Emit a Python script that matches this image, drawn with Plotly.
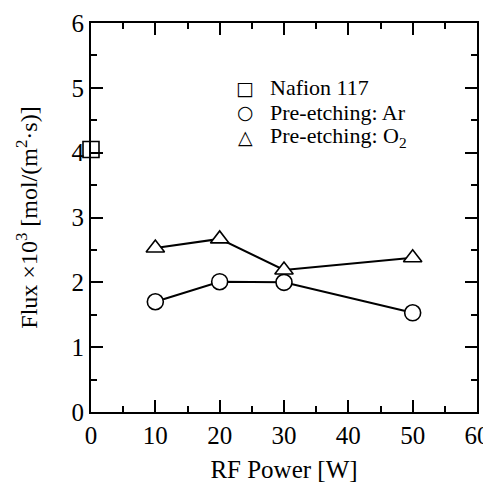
import plotly.graph_objects as go

nafion_x = [0]
nafion_y = [4.05]
power = [10, 20, 30, 50]
flux_ar = [1.70, 2.01, 2.00, 1.53]
flux_o2 = [2.53, 2.67, 2.19, 2.38]
x_major = [0, 10, 20, 30, 40, 50, 60]
y_major = [0, 1, 2, 3, 4, 5, 6]
legend_names = ["Nafion 117", "Pre-etching: Ar", "Pre-etching: O<sub>2</sub>"]
legend_glyphs = ["□", "○", "△"]

FONT = "Liberation Serif"
fig = go.Figure()

mk = dict(size=16, color="white", line=dict(color="black", width=1.6))

fig.add_trace(go.Scatter(x=power, y=flux_ar, mode="lines+markers", cliponaxis=False,
                         line=dict(color="black", width=2),
                         marker=dict(symbol="circle", **mk)))
fig.add_trace(go.Scatter(x=power, y=flux_o2, mode="lines+markers", cliponaxis=False,
                         line=dict(color="black", width=2),
                         marker=dict(symbol="triangle-up", **mk)))
fig.add_trace(go.Scatter(x=nafion_x, y=nafion_y, mode="markers", cliponaxis=False,
                         marker=dict(symbol="square", **mk)))

# legend drawn as text annotations
leg_rows = [0.833, 0.771, 0.707]
for name, glyph, yy in zip(legend_names, legend_glyphs, leg_rows):
    fig.add_annotation(xref="paper", yref="paper", x=0.399, y=yy, text=glyph,
                       showarrow=False, xanchor="center", yanchor="middle",
                       font=dict(family="DejaVu Sans", size=19, color="black"))
    fig.add_annotation(xref="paper", yref="paper", x=0.458, y=yy, text=name,
                       showarrow=False, xanchor="left", yanchor="middle",
                       font=dict(family=FONT, size=22, color="black"))

axbase = dict(showline=True, linecolor="black", linewidth=2, mirror="ticks",
              ticks="inside", tickcolor="black", tickwidth=2, ticklen=12,
              showgrid=False, zeroline=False, automargin=False,
              tickfont=dict(family=FONT, size=25, color="black"))

fig.update_xaxes(range=[0, 60], tickmode="array", tickvals=x_major,
                 minor=dict(ticks="inside", dtick=5, ticklen=6, tickwidth=2,
                            tickcolor="black", showgrid=False),
                 title=dict(text="RF Power [W]", font=dict(family=FONT, size=25, color="black"),
                            standoff=12),
                 **axbase)
fig.update_yaxes(range=[0, 6], tickmode="array", tickvals=y_major,
                 minor=dict(ticks="inside", dtick=0.5, ticklen=6, tickwidth=2,
                            tickcolor="black", showgrid=False),
                 title=dict(text="Flux ×10<sup>3</sup> [mol/(m<sup>2</sup>·s)]",
                            font=dict(family=FONT, size=24, color="black"), standoff=27),
                 **axbase)

fig.update_layout(
    width=483, height=481,
    margin=dict(l=83, r=14, t=15, b=77),
    paper_bgcolor="white", plot_bgcolor="white",
    font=dict(family=FONT, color="black"),
    showlegend=False,
)

fig.write_html("out.html")
